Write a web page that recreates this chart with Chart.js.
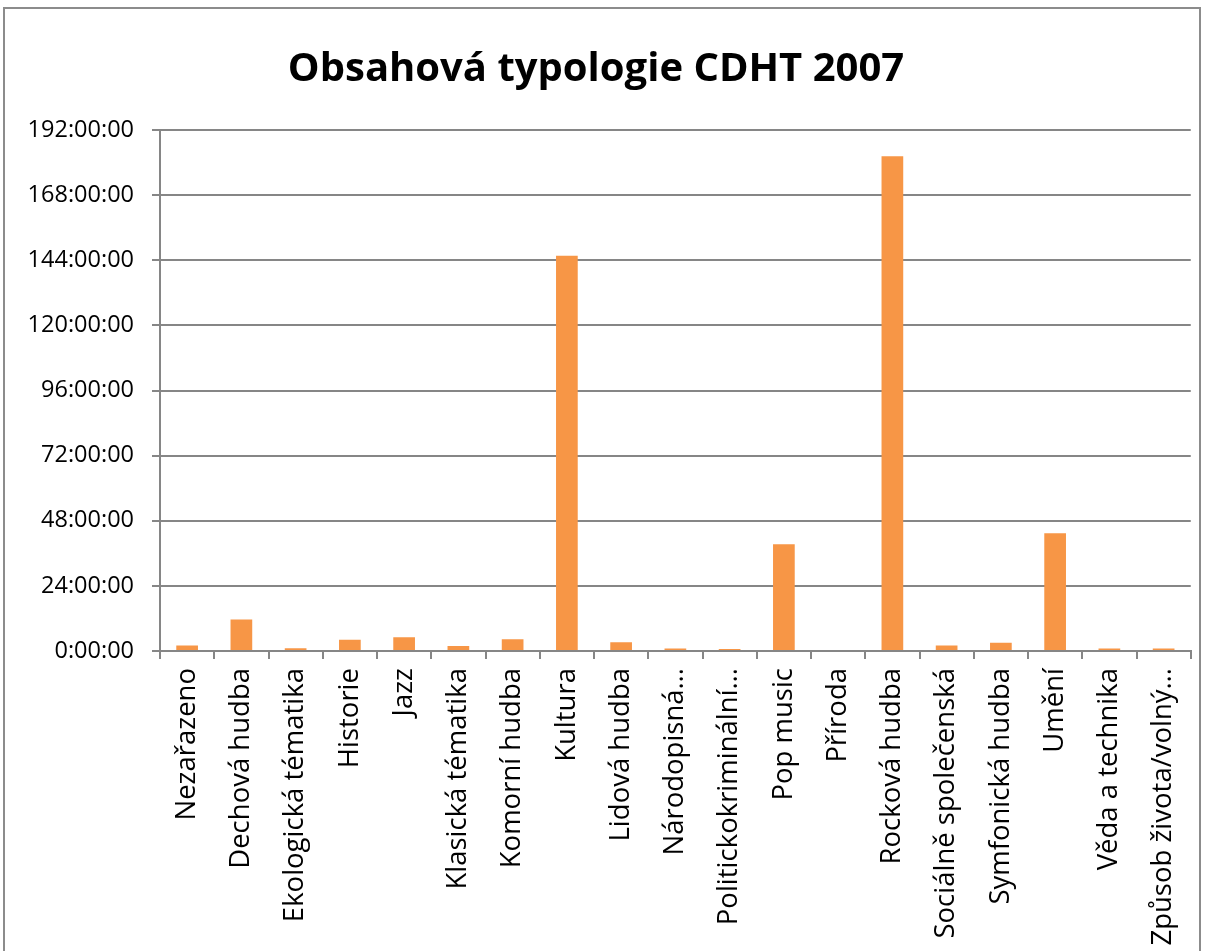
<!DOCTYPE html>
<html>
<head>
<meta charset="utf-8">
<script src="https://cdn.jsdelivr.net/npm/chart.js@4/dist/chart.umd.min.js"></script>
<style>
  html, body { margin: 0; padding: 0; background: #fff; }
  #wrap { position: relative; width: 1206px; height: 951px; overflow: hidden; }
  #frame { position: absolute; left: 3px; top: 7px; width: 1198px; height: 1000px; border: 2px solid #8c8c8c; box-sizing: border-box; pointer-events: none; }
  canvas { position: absolute; left: 0; top: 0; }
</style>
</head>
<body>
<div id="wrap">
  <canvas id="c" width="1206" height="951"></canvas>
  <div id="frame"></div>
</div>
<script>
const chartTitle = "Obsahová typologie CDHT 2007";
const categories = [
  "Nezařazeno", "Dechová hudba", "Ekologická tématika", "Historie", "Jazz",
  "Klasická tématika", "Komorní hudba", "Kultura", "Lidová hudba", "Národopisná…",
  "Politickokriminální…", "Pop music", "Příroda", "Rocková hudba", "Sociálně společenská",
  "Symfonická hudba", "Umění", "Věda a technika", "Způsob života/volný…"
];
// duration in hours
const hours = [
  2.0, 11.6, 1.0, 4.1, 5.1,
  1.8, 4.35, 145.7, 3.2, 0.9,
  0.7, 39.3, 0, 182.3, 2.0,
  3.0, 43.4, 0.9, 0.9
];
const yTickStep = 24;
const yMax = 192;

function fmt(h) { return Math.round(h) + ":00:00"; }

new Chart(document.getElementById("c"), {
  type: "bar",
  data: {
    labels: categories,
    datasets: [{
      data: hours,
      backgroundColor: "#F79646",
      borderWidth: 0,
      categoryPercentage: 1,
      barPercentage: 0.4
    }]
  },
  options: {
    responsive: false,
    animation: false,
    events: [],
    layout: { padding: { left: 0, right: 14, top: 0, bottom: 0 } },
    plugins: {
      legend: { display: false },
      tooltip: { enabled: false },
      title: {
        display: true,
        text: chartTitle,
        color: "#000",
        font: { family: "'Open Sans'", size: 40, weight: "bold", lineHeight: 1.2 },
        padding: { top: 46, bottom: 36 }
      }
    },
    scales: {
      x: {
        offset: true,
        grid: { display: true, offset: true, drawOnChartArea: false, drawTicks: true, tickLength: 8, color: "#868686", lineWidth: 2 },
        border: { display: true, color: "#868686", width: 2 },
        ticks: {
          color: "#000",
          font: { family: "'Open Sans'", size: 27.5 },
          minRotation: 90, maxRotation: 90,
          autoSkip: false,
          padding: 9
        },
        afterFit(scale) { scale.height = 300; }
      },
      y: {
        min: 0, max: yMax,
        grid: { color: "#868686", lineWidth: 2, drawTicks: true, tickLength: 8 },
        border: { display: true, color: "#868686", width: 2 },
        ticks: {
          stepSize: yTickStep,
          color: "#000",
          font: { family: "'Open Sans'", size: 23.5 },
          padding: 18,
          callback: (v) => fmt(v)
        },
        afterFit(scale) { scale.width = 160; }
      }
    }
  }
});
</script>
</body>
</html>
